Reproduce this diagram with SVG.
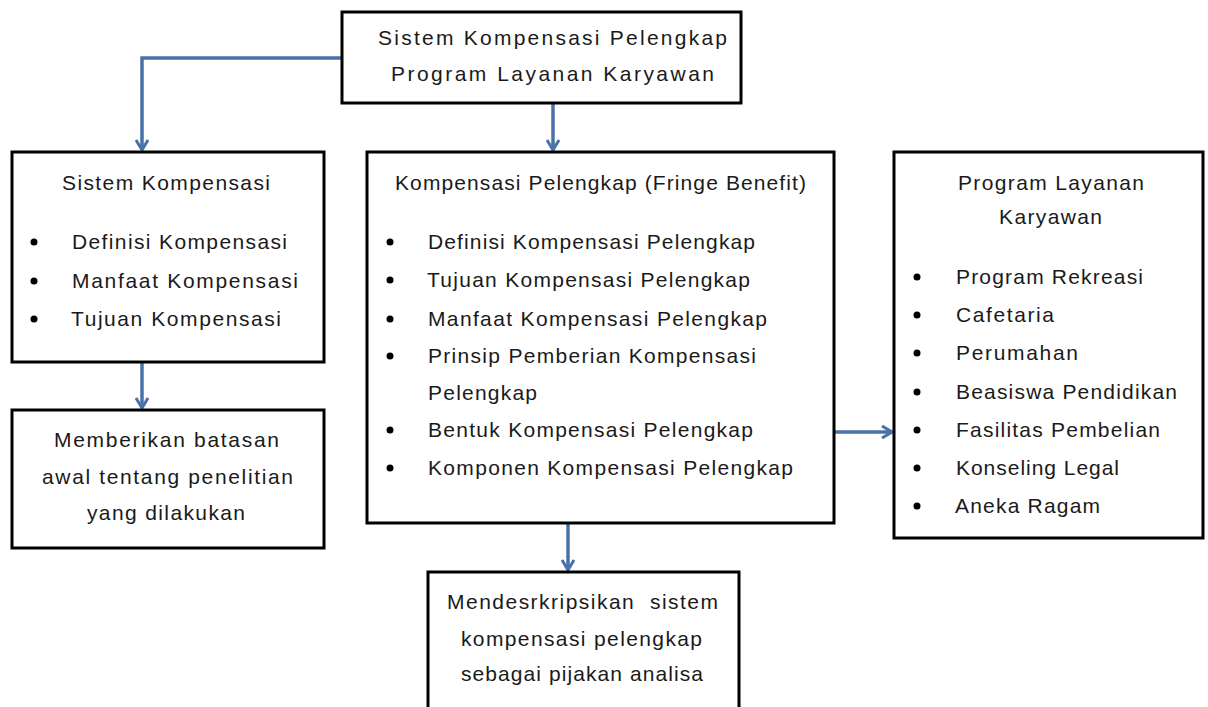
<svg xmlns="http://www.w3.org/2000/svg" width="1208" height="707" viewBox="0 0 1208 707">
<style>
.box{fill:#fff;stroke:#000;stroke-width:3}
.t{font-family:"Liberation Sans",Arial,sans-serif;font-size:21px;fill:#1a1a1a}
.b{fill:#000}
.c{fill:none;stroke:#4a72a8;stroke-width:3.5}
</style>
<defs>
<marker id="ah" viewBox="0 0 12 14" refX="11" refY="7" markerWidth="12" markerHeight="14" markerUnits="userSpaceOnUse" orient="auto">
<path d="M1,1 L11,7 L1,13" fill="none" stroke="#4a72a8" stroke-width="3"/>
</marker>
</defs>
<g id="connectors">
<path class="c" d="M342,58 H142 V150" marker-end="url(#ah)"/>
<path class="c" d="M553,103 V150" marker-end="url(#ah)"/>
<path class="c" d="M142,362 V408" marker-end="url(#ah)"/>
<path class="c" d="M834,432 H892" marker-end="url(#ah)"/>
<path class="c" d="M568,523 V570" marker-end="url(#ah)"/>
</g>
<g id="top">
<rect class="box" x="342" y="12" width="399" height="91"/>
<text class="t" x="378" y="45" textLength="349" lengthAdjust="spacing">Sistem Kompensasi Pelengkap</text>
<text class="t" x="391" y="81" textLength="323" lengthAdjust="spacing">Program Layanan Karyawan</text>
</g>
<g id="sistem">
<rect class="box" x="12" y="152" width="312" height="210"/>
<text class="t" x="62" y="190" textLength="208" lengthAdjust="spacing">Sistem Kompensasi</text>
<circle class="b" cx="34" cy="242" r="3.5"/>
<text class="t" x="72" y="249" textLength="215" lengthAdjust="spacing">Definisi Kompensasi</text>
<circle class="b" cx="34" cy="281" r="3.5"/>
<text class="t" x="72" y="288" textLength="226" lengthAdjust="spacing">Manfaat Kompensasi</text>
<circle class="b" cx="34" cy="319" r="3.5"/>
<text class="t" x="71" y="326" textLength="210" lengthAdjust="spacing">Tujuan Kompensasi</text>
</g>
<g id="memberikan">
<rect class="box" x="12" y="410" width="312" height="138"/>
<text class="t" x="54" y="447" textLength="225" lengthAdjust="spacing">Memberikan batasan</text>
<text class="t" x="42" y="484" textLength="251" lengthAdjust="spacing">awal tentang penelitian</text>
<text class="t" x="87" y="520" textLength="158" lengthAdjust="spacing">yang dilakukan</text>
</g>
<g id="fringe">
<rect class="box" x="367" y="152" width="467" height="371"/>
<text class="t" x="395" y="190" textLength="411" lengthAdjust="spacing">Kompensasi Pelengkap (Fringe Benefit)</text>
<circle class="b" cx="390" cy="242" r="3.5"/>
<text class="t" x="428" y="249" textLength="327" lengthAdjust="spacing">Definisi Kompensasi Pelengkap</text>
<circle class="b" cx="390" cy="280" r="3.5"/>
<text class="t" x="427" y="287" textLength="323" lengthAdjust="spacing">Tujuan Kompensasi Pelengkap</text>
<circle class="b" cx="390" cy="319" r="3.5"/>
<text class="t" x="428" y="326" textLength="339" lengthAdjust="spacing">Manfaat Kompensasi Pelengkap</text>
<circle class="b" cx="390" cy="356" r="3.5"/>
<text class="t" x="428" y="363" textLength="328" lengthAdjust="spacing">Prinsip Pemberian Kompensasi</text>
<text class="t" x="428" y="400" textLength="109" lengthAdjust="spacing">Pelengkap</text>
<circle class="b" cx="390" cy="430" r="3.5"/>
<text class="t" x="428" y="437" textLength="325" lengthAdjust="spacing">Bentuk Kompensasi Pelengkap</text>
<circle class="b" cx="390" cy="468" r="3.5"/>
<text class="t" x="428" y="475" textLength="365" lengthAdjust="spacing">Komponen Kompensasi Pelengkap</text>
</g>
<g id="layanan">
<rect class="box" x="894" y="152" width="309" height="386"/>
<text class="t" x="958" y="190" textLength="186" lengthAdjust="spacing">Program Layanan</text>
<text class="t" x="999" y="224" textLength="103" lengthAdjust="spacing">Karyawan</text>
<circle class="b" cx="917" cy="277" r="3.5"/>
<text class="t" x="956" y="284" textLength="187" lengthAdjust="spacing">Program Rekreasi</text>
<circle class="b" cx="917" cy="315" r="3.5"/>
<text class="t" x="956" y="322" textLength="98" lengthAdjust="spacing">Cafetaria</text>
<circle class="b" cx="917" cy="353" r="3.5"/>
<text class="t" x="956" y="360" textLength="122" lengthAdjust="spacing">Perumahan</text>
<circle class="b" cx="917" cy="392" r="3.5"/>
<text class="t" x="956" y="399" textLength="221" lengthAdjust="spacing">Beasiswa Pendidikan</text>
<circle class="b" cx="917" cy="430" r="3.5"/>
<text class="t" x="956" y="437" textLength="204" lengthAdjust="spacing">Fasilitas Pembelian</text>
<circle class="b" cx="917" cy="468" r="3.5"/>
<text class="t" x="956" y="475" textLength="163" lengthAdjust="spacing">Konseling Legal</text>
<circle class="b" cx="917" cy="506" r="3.5"/>
<text class="t" x="955" y="513" textLength="145" lengthAdjust="spacing">Aneka Ragam</text>
</g>
<g id="mendeskripsikan">
<rect class="box" x="428" y="572" width="311" height="140"/>
<text class="t" x="447" y="609" textLength="271" lengthAdjust="spacing" xml:space="preserve">Mendesrkripsikan  sistem</text>
<text class="t" x="461" y="646" textLength="241" lengthAdjust="spacing">kompensasi pelengkap</text>
<text class="t" x="461" y="681" textLength="242" lengthAdjust="spacing">sebagai pijakan analisa</text>
</g>
</svg>
